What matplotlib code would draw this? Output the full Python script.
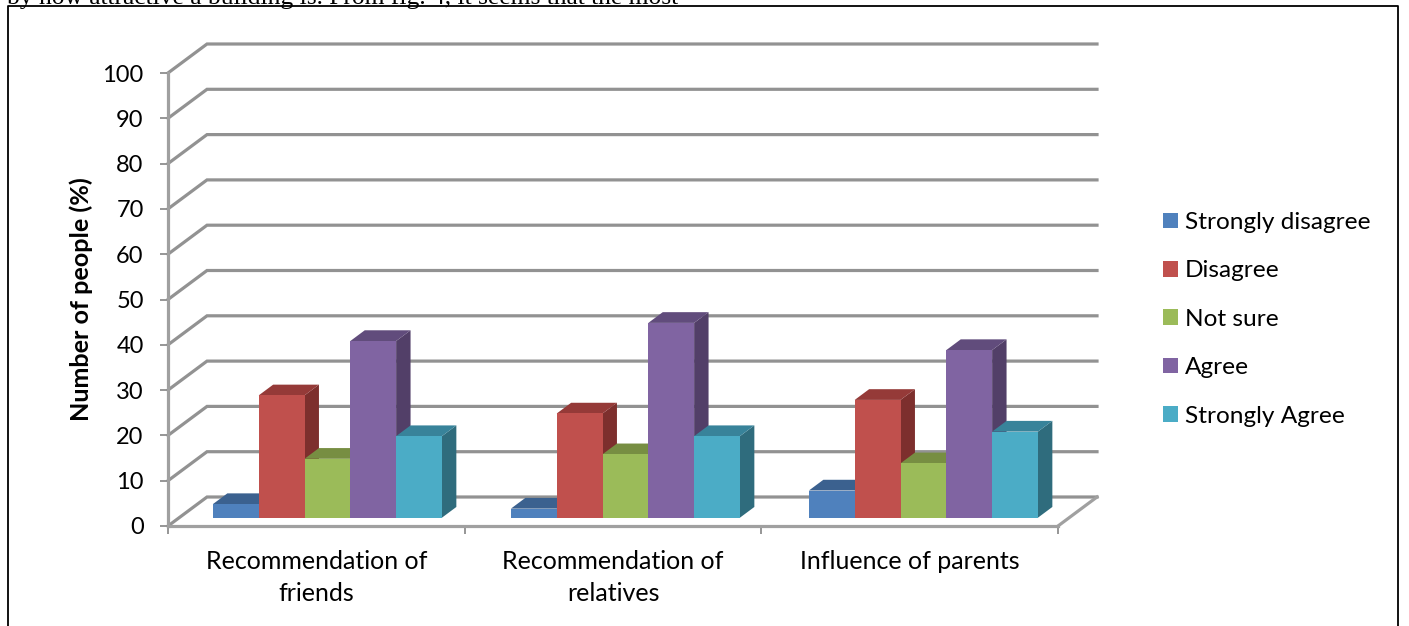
import matplotlib
matplotlib.use("Agg")
import matplotlib.pyplot as plt
from matplotlib.patches import Patch, Polygon
from matplotlib.lines import Line2D

categories = ["Recommendation of\nfriends", "Recommendation of\nrelatives", "Influence of parents"]
series_names = ["Strongly disagree", "Disagree", "Not sure", "Agree", "Strongly Agree"]
strongly_disagree = [3, 2, 6]
disagree = [27, 23, 26]
not_sure = [13, 14, 12]
agree = [39, 43, 37]
strongly_agree = [18, 18, 19]
y_ticks = list(range(0, 101, 10))
series = [strongly_disagree, disagree, not_sure, agree, strongly_agree]

colors = ["#4F81BD", "#C0504D", "#9BBB59", "#8064A2", "#4BACC6"]
tops = ["#3B618F", "#953A38", "#778E42", "#614C7C", "#38839A"]
sides = ["#305276", "#7D2F2D", "#647737", "#523F68", "#2F6C7D"]

W, H = 1409, 626
FONT = "Lato"
plt.rcParams["font.family"] = [FONT, "DejaVu Sans"]
fig = plt.figure(figsize=(W / 100, H / 100), dpi=100)
ax = fig.add_axes([168 / W, (H - 526) / H, 890 / W, 453 / H])
ax.set_xlim(0, 3)
ax.set_ylim(0, 100)
ax.patch.set_visible(False)

# 3-D projection expressed in axis units
DX = 39 / (890 / 3)
DY = 29 / 4.53
BAR_W = 45.8 / (890 / 3)
GAP = (1 - 5 * BAR_W) / 2 - 1 / (890 / 3)
GROUP_STEP = 298 / (890 / 3)
BASE = 0.31
THICK = 0.37
GRID = "#929292"

for v in y_ticks:
    ax.plot([0, DX, 3 + DX], [v, v + DY, v + DY], color=GRID, lw=2.3, clip_on=False,
            solid_joinstyle="miter", zorder=1)
ax.plot([3, 3 + DX], [0, DY], color="#A0A0A0", lw=2.3, clip_on=False, zorder=1)

z = 3
for g in range(3):
    for s, vals in enumerate(series):
        v = vals[g]
        x0 = g * GROUP_STEP + GAP + s * BAR_W + BASE * DX
        x1 = x0 + BAR_W
        y0 = BASE * DY - 0.15
        y1 = y0 + v
        ox, oy = THICK * DX, THICK * DY
        ax.add_patch(Polygon([(x1, y0), (x1 + ox, y0 + oy), (x1 + ox, y1 + oy), (x1, y1)],
                             closed=True, fc=sides[s], ec="none", clip_on=False, zorder=z))
        ax.add_patch(Polygon([(x0, y1), (x0 + ox, y1 + oy), (x1 + ox, y1 + oy), (x1, y1)],
                             closed=True, fc=tops[s], ec="none", clip_on=False, zorder=z))
        ax.bar(x0, v, width=BAR_W, bottom=y0, align="edge", color=colors[s], clip_on=False, zorder=z + 0.5)
        z += 1

for name in ("top", "right"):
    ax.spines[name].set_visible(False)
for name in ("left", "bottom"):
    ax.spines[name].set_color("#A0A0A0")
    ax.spines[name].set_linewidth(2.3)
    ax.spines[name].set_zorder(2)

ax.set_yticks(y_ticks)
ax.tick_params(axis="y", length=5.5, width=1.3, color="#8E8E8E", pad=12, labelsize=17, labelcolor="black")
ax.set_xticks([0, 1, 2, 3])
ax.set_xticklabels([])
ax.tick_params(axis="x", which="major", length=5.5, width=1.3, color="#8E8E8E")
ax.set_xticks([0.5, 1.5, 2.5], minor=True)
ax.set_xticklabels(categories, minor=True, fontsize=18, linespacing=1.46, va="top")
ax.tick_params(axis="x", which="minor", length=0, pad=17.5, labelcolor="black")

ax.set_ylabel("Number of people (%)", fontsize=18.1, fontweight="bold", labelpad=0)
ax.yaxis.set_label_coords((93 - 168) / 890, (526 - 299.5) / 453)

handles = [Patch(fc=c, ec="none") for c in colors]
fig.legend(handles, series_names, loc="upper left", bbox_to_anchor=(1163 / W, 1 - 212 / H),
           borderaxespad=0, borderpad=0, frameon=False, fontsize=17.6, handlelength=0.61,
           handleheight=0.61, handletextpad=0.29, labelspacing=1.12)

# surrounding page frame and clipped text line above it
for xs, ys in (([8, 8, 1398, 1398], [H, 6, 6, H]),):
    fig.add_artist(Line2D([x / W for x in xs], [1 - y / H for y in ys], color="black", lw=1.3))
fig.text(7 / W, 1 - 4 / H, "by how attractive a building is. From fig. 4, it seems that the most",
         family="Liberation Serif", fontsize=18.4, va="baseline", ha="left", color="black")

fig.savefig("out.png", dpi=100)
